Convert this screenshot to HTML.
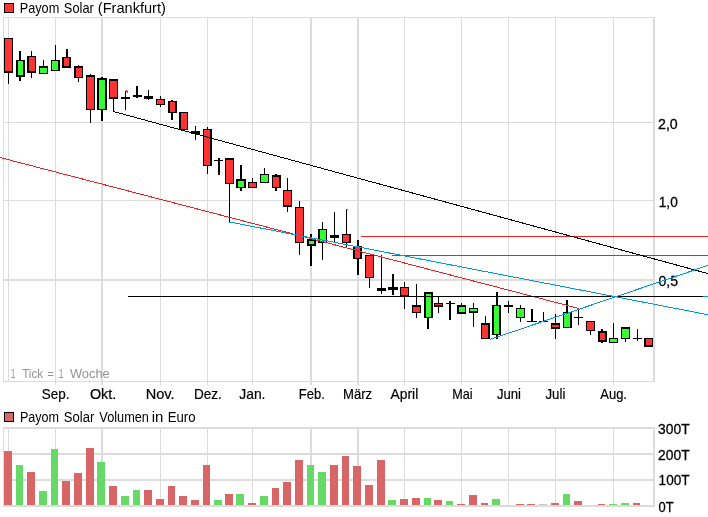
<!DOCTYPE html>
<html lang="de"><head><meta charset="utf-8"><title>Payom Solar (Frankfurt)</title>
<style>html,body{margin:0;padding:0;background:#fff}svg{display:block}text{font-family:"Liberation Sans",sans-serif;fill:#000}text.g{fill:#939393}text.b{stroke:#000;stroke-width:.2px}text.b2{stroke:#000;stroke-width:.3px}</style></head><body>
<svg width="708" height="517" viewBox="0 0 708 517">
<rect width="708" height="517" fill="#fff"/>
<g shape-rendering="crispEdges">
<g fill="#dcdcdc">
<rect x="3" y="17" width="652" height="1"/>
<rect x="3" y="381" width="652" height="1"/>
<rect x="3" y="17" width="1" height="365"/>
<rect x="653" y="17" width="2" height="365"/>
<rect x="8" y="17" width="1" height="365"/>
<rect x="55" y="17" width="1" height="368"/>
<rect x="101" y="17" width="2" height="368"/>
<rect x="160" y="17" width="1" height="368"/>
<rect x="207" y="17" width="1" height="368"/>
<rect x="252" y="17" width="1" height="368"/>
<rect x="310" y="17" width="2" height="368"/>
<rect x="357" y="17" width="2" height="368"/>
<rect x="404" y="17" width="1" height="368"/>
<rect x="461" y="17" width="1" height="368"/>
<rect x="508" y="17" width="1" height="368"/>
<rect x="555" y="17" width="1" height="368"/>
<rect x="613" y="17" width="1" height="368"/>
<rect x="3" y="122" width="651" height="1"/>
<rect x="3" y="200" width="651" height="1"/>
<rect x="3" y="279" width="651" height="2"/>
<rect x="3" y="427" width="652" height="2"/>
<rect x="3" y="505" width="652" height="2"/>
<rect x="3" y="427" width="1" height="79"/>
<rect x="653" y="427" width="2" height="79"/>
<rect x="8" y="427" width="1" height="79"/>
<rect x="55" y="427" width="1" height="79"/>
<rect x="101" y="427" width="2" height="79"/>
<rect x="160" y="427" width="1" height="79"/>
<rect x="207" y="427" width="1" height="79"/>
<rect x="252" y="427" width="1" height="79"/>
<rect x="310" y="427" width="2" height="79"/>
<rect x="357" y="427" width="2" height="79"/>
<rect x="404" y="427" width="1" height="79"/>
<rect x="461" y="427" width="1" height="79"/>
<rect x="508" y="427" width="1" height="79"/>
<rect x="555" y="427" width="1" height="79"/>
<rect x="613" y="427" width="1" height="79"/>
<rect x="3" y="453" width="651" height="2"/>
<rect x="3" y="479" width="651" height="2"/>
</g>
<rect x="4" y="451" width="8" height="54" fill="#d96666"/>
<rect x="16" y="465" width="7" height="40" fill="#66d966"/>
<rect x="27" y="472" width="8" height="33" fill="#d96666"/>
<rect x="39" y="491" width="8" height="14" fill="#66d966"/>
<rect x="51" y="449" width="7" height="56" fill="#66d966"/>
<rect x="62" y="481" width="8" height="24" fill="#d96666"/>
<rect x="74" y="473" width="8" height="32" fill="#d96666"/>
<rect x="86" y="448" width="8" height="57" fill="#d96666"/>
<rect x="97" y="462" width="8" height="43" fill="#66d966"/>
<rect x="109" y="486" width="8" height="19" fill="#d96666"/>
<rect x="121" y="496" width="8" height="9" fill="#66d966"/>
<rect x="133" y="490" width="7" height="15" fill="#66d966"/>
<rect x="144" y="490" width="8" height="15" fill="#d96666"/>
<rect x="156" y="499" width="8" height="6" fill="#d96666"/>
<rect x="168" y="486" width="7" height="19" fill="#d96666"/>
<rect x="179" y="496" width="8" height="9" fill="#d96666"/>
<rect x="191" y="500" width="8" height="5" fill="#d96666"/>
<rect x="203" y="465" width="7" height="40" fill="#d96666"/>
<rect x="214" y="500" width="8" height="5" fill="#66d966"/>
<rect x="225" y="494" width="8" height="11" fill="#d96666"/>
<rect x="236" y="494" width="8" height="11" fill="#66d966"/>
<rect x="248" y="503" width="8" height="2" fill="#d96666"/>
<rect x="260" y="496" width="8" height="9" fill="#66d966"/>
<rect x="272" y="488" width="7" height="17" fill="#d96666"/>
<rect x="283" y="482" width="8" height="23" fill="#d96666"/>
<rect x="295" y="460" width="8" height="45" fill="#d96666"/>
<rect x="307" y="465" width="7" height="40" fill="#66d966"/>
<rect x="318" y="472" width="8" height="33" fill="#66d966"/>
<rect x="330" y="465" width="8" height="40" fill="#d96666"/>
<rect x="342" y="456" width="7" height="49" fill="#d96666"/>
<rect x="353" y="466" width="8" height="39" fill="#d96666"/>
<rect x="365" y="485" width="8" height="20" fill="#d96666"/>
<rect x="377" y="460" width="8" height="45" fill="#d96666"/>
<rect x="388" y="500" width="8" height="5" fill="#66d966"/>
<rect x="400" y="499" width="8" height="6" fill="#d96666"/>
<rect x="412" y="498" width="8" height="7" fill="#d96666"/>
<rect x="424" y="498" width="7" height="7" fill="#66d966"/>
<rect x="434" y="500" width="8" height="5" fill="#d96666"/>
<rect x="446" y="501" width="7" height="4" fill="#66d966"/>
<rect x="457" y="504" width="8" height="1" fill="#d96666"/>
<rect x="469" y="495" width="8" height="10" fill="#d96666"/>
<rect x="481" y="503" width="7" height="2" fill="#d96666"/>
<rect x="492" y="499" width="8" height="6" fill="#66d966"/>
<rect x="516" y="504" width="8" height="1" fill="#d96666"/>
<rect x="527" y="504" width="8" height="1" fill="#d96666"/>
<rect x="539" y="504" width="8" height="1" fill="#c8c8c8"/>
<rect x="551" y="503" width="8" height="2" fill="#d96666"/>
<rect x="563" y="494" width="7" height="11" fill="#66d966"/>
<rect x="574" y="501" width="8" height="4" fill="#d96666"/>
<rect x="598" y="504" width="7" height="1" fill="#d96666"/>
<rect x="609" y="504" width="8" height="1" fill="#66d966"/>
<rect x="621" y="503" width="8" height="2" fill="#66d966"/>
<rect x="633" y="503" width="7" height="2" fill="#d96666"/>
<rect x="8" y="38" width="1" height="46" fill="#000"/>
<rect x="4" y="38" width="9" height="35" fill="#000"/>
<rect x="5" y="39" width="7" height="32" fill="#ff3333"/>
<rect x="19" y="51" width="2" height="30" fill="#000"/>
<rect x="16" y="60" width="9" height="17" fill="#000"/>
<rect x="18" y="61" width="5" height="14" fill="#33ff33"/>
<rect x="31" y="51" width="1" height="27" fill="#000"/>
<rect x="27" y="56" width="9" height="17" fill="#000"/>
<rect x="29" y="57" width="6" height="14" fill="#ff3333"/>
<rect x="43" y="60" width="1" height="14" fill="#000"/>
<rect x="39" y="66" width="9" height="8" fill="#000"/>
<rect x="40" y="68" width="7" height="5" fill="#33ff33"/>
<rect x="55" y="45" width="1" height="26" fill="#000"/>
<rect x="51" y="60" width="9" height="11" fill="#000"/>
<rect x="52" y="61" width="6" height="9" fill="#33ff33"/>
<rect x="66" y="49" width="2" height="19" fill="#000"/>
<rect x="62" y="57" width="9" height="11" fill="#000"/>
<rect x="64" y="58" width="5" height="8" fill="#ff3333"/>
<rect x="78" y="65" width="1" height="17" fill="#000"/>
<rect x="74" y="66" width="9" height="12" fill="#000"/>
<rect x="76" y="68" width="6" height="9" fill="#ff3333"/>
<rect x="90" y="74" width="1" height="49" fill="#000"/>
<rect x="86" y="75" width="9" height="35" fill="#000"/>
<rect x="87" y="77" width="7" height="32" fill="#ff3333"/>
<rect x="101" y="77" width="2" height="44" fill="#000"/>
<rect x="97" y="78" width="10" height="32" fill="#000"/>
<rect x="99" y="80" width="6" height="29" fill="#33ff33"/>
<rect x="113" y="79" width="1" height="33" fill="#000"/>
<rect x="109" y="79" width="9" height="20" fill="#000"/>
<rect x="110" y="81" width="7" height="16" fill="#ff3333"/>
<rect x="160" y="96" width="1" height="11" fill="#000"/>
<rect x="156" y="99" width="9" height="6" fill="#000"/>
<rect x="157" y="100" width="7" height="4" fill="#ff3333"/>
<rect x="171" y="100" width="2" height="20" fill="#000"/>
<rect x="168" y="101" width="9" height="12" fill="#000"/>
<rect x="170" y="102" width="5" height="10" fill="#ff3333"/>
<rect x="183" y="112" width="1" height="18" fill="#000"/>
<rect x="179" y="112" width="9" height="18" fill="#000"/>
<rect x="181" y="113" width="6" height="16" fill="#ff3333"/>
<rect x="207" y="127" width="1" height="47" fill="#000"/>
<rect x="203" y="129" width="9" height="37" fill="#000"/>
<rect x="204" y="130" width="6" height="35" fill="#ff3333"/>
<rect x="229" y="158" width="1" height="64" fill="#000"/>
<rect x="225" y="158" width="9" height="26" fill="#000"/>
<rect x="226" y="160" width="7" height="23" fill="#ff3333"/>
<rect x="240" y="165" width="2" height="26" fill="#000"/>
<rect x="236" y="179" width="10" height="9" fill="#000"/>
<rect x="238" y="181" width="6" height="6" fill="#33ff33"/>
<rect x="252" y="178" width="1" height="10" fill="#000"/>
<rect x="248" y="182" width="9" height="6" fill="#000"/>
<rect x="249" y="183" width="7" height="4" fill="#ff3333"/>
<rect x="264" y="168" width="1" height="15" fill="#000"/>
<rect x="260" y="174" width="9" height="9" fill="#000"/>
<rect x="261" y="175" width="7" height="7" fill="#33ff33"/>
<rect x="275" y="174" width="2" height="17" fill="#000"/>
<rect x="272" y="175" width="9" height="13" fill="#000"/>
<rect x="273" y="177" width="6" height="10" fill="#ff3333"/>
<rect x="287" y="178" width="1" height="34" fill="#000"/>
<rect x="283" y="190" width="9" height="17" fill="#000"/>
<rect x="284" y="191" width="7" height="14" fill="#ff3333"/>
<rect x="299" y="201" width="1" height="54" fill="#000"/>
<rect x="295" y="207" width="9" height="36" fill="#000"/>
<rect x="296" y="208" width="7" height="34" fill="#ff3333"/>
<rect x="310" y="234" width="2" height="32" fill="#000"/>
<rect x="307" y="239" width="9" height="7" fill="#000"/>
<rect x="309" y="241" width="5" height="3" fill="#33ff33"/>
<rect x="322" y="222" width="1" height="38" fill="#000"/>
<rect x="318" y="229" width="9" height="14" fill="#000"/>
<rect x="320" y="230" width="6" height="12" fill="#33ff33"/>
<rect x="346" y="209" width="1" height="38" fill="#000"/>
<rect x="342" y="234" width="9" height="9" fill="#000"/>
<rect x="343" y="235" width="6" height="7" fill="#ff3333"/>
<rect x="357" y="240" width="2" height="35" fill="#000"/>
<rect x="353" y="246" width="9" height="13" fill="#000"/>
<rect x="355" y="247" width="5" height="11" fill="#ff3333"/>
<rect x="369" y="255" width="1" height="33" fill="#000"/>
<rect x="365" y="255" width="9" height="23" fill="#000"/>
<rect x="366" y="256" width="7" height="21" fill="#ff3333"/>
<rect x="404" y="282" width="1" height="27" fill="#000"/>
<rect x="400" y="287" width="9" height="9" fill="#000"/>
<rect x="401" y="288" width="7" height="7" fill="#ff3333"/>
<rect x="416" y="284" width="1" height="34" fill="#000"/>
<rect x="412" y="305" width="9" height="8" fill="#000"/>
<rect x="413" y="307" width="7" height="5" fill="#ff3333"/>
<rect x="427" y="292" width="2" height="37" fill="#000"/>
<rect x="424" y="292" width="9" height="26" fill="#000"/>
<rect x="426" y="294" width="5" height="23" fill="#33ff33"/>
<rect x="438" y="297" width="1" height="16" fill="#000"/>
<rect x="434" y="303" width="9" height="4" fill="#000"/>
<rect x="435" y="304" width="7" height="1" fill="#ff3333"/>
<rect x="461" y="303" width="1" height="11" fill="#000"/>
<rect x="457" y="305" width="9" height="9" fill="#000"/>
<rect x="459" y="307" width="6" height="5" fill="#33ff33"/>
<rect x="473" y="303" width="1" height="24" fill="#000"/>
<rect x="469" y="308" width="9" height="5" fill="#000"/>
<rect x="470" y="309" width="7" height="2" fill="#33ff33"/>
<rect x="485" y="316" width="1" height="23" fill="#000"/>
<rect x="481" y="323" width="9" height="16" fill="#000"/>
<rect x="482" y="325" width="6" height="13" fill="#ff3333"/>
<rect x="496" y="292" width="2" height="47" fill="#000"/>
<rect x="492" y="305" width="9" height="30" fill="#000"/>
<rect x="494" y="306" width="5" height="28" fill="#33ff33"/>
<rect x="520" y="305" width="1" height="17" fill="#000"/>
<rect x="516" y="308" width="9" height="10" fill="#000"/>
<rect x="517" y="309" width="7" height="8" fill="#33ff33"/>
<rect x="555" y="314" width="1" height="25" fill="#000"/>
<rect x="551" y="323" width="9" height="6" fill="#000"/>
<rect x="552" y="325" width="7" height="2" fill="#ff3333"/>
<rect x="566" y="300" width="2" height="28" fill="#000"/>
<rect x="563" y="312" width="9" height="16" fill="#000"/>
<rect x="564" y="313" width="6" height="14" fill="#33ff33"/>
<rect x="590" y="321" width="1" height="14" fill="#000"/>
<rect x="586" y="321" width="9" height="10" fill="#000"/>
<rect x="587" y="322" width="7" height="8" fill="#ff3333"/>
<rect x="601" y="329" width="2" height="14" fill="#000"/>
<rect x="598" y="331" width="9" height="11" fill="#000"/>
<rect x="600" y="333" width="5" height="7" fill="#ff3333"/>
<rect x="613" y="323" width="1" height="20" fill="#000"/>
<rect x="609" y="338" width="9" height="5" fill="#000"/>
<rect x="610" y="339" width="7" height="3" fill="#33ff33"/>
<rect x="625" y="327" width="1" height="15" fill="#000"/>
<rect x="621" y="327" width="9" height="12" fill="#000"/>
<rect x="622" y="329" width="7" height="9" fill="#33ff33"/>
<rect x="648" y="338" width="1" height="9" fill="#000"/>
<rect x="644" y="338" width="9" height="9" fill="#000"/>
<rect x="646" y="339" width="6" height="6" fill="#ff3333"/>
<rect x="125" y="91" width="1" height="19" fill="#000"/>
<rect x="121" y="97" width="9" height="2" fill="#000"/>
<rect x="136" y="86" width="2" height="12" fill="#000"/>
<rect x="133" y="95" width="9" height="2" fill="#000"/>
<rect x="148" y="90" width="1" height="10" fill="#000"/>
<rect x="144" y="96" width="9" height="3" fill="#000"/>
<rect x="195" y="126" width="1" height="14" fill="#000"/>
<rect x="191" y="131" width="9" height="3" fill="#000"/>
<rect x="218" y="158" width="2" height="17" fill="#000"/>
<rect x="214" y="160" width="9" height="1" fill="#000"/>
<rect x="334" y="212" width="1" height="30" fill="#000"/>
<rect x="330" y="235" width="9" height="3" fill="#000"/>
<rect x="381" y="255" width="1" height="39" fill="#000"/>
<rect x="377" y="288" width="9" height="3" fill="#000"/>
<rect x="392" y="274" width="2" height="21" fill="#000"/>
<rect x="388" y="287" width="10" height="3" fill="#000"/>
<rect x="449" y="301" width="2" height="19" fill="#000"/>
<rect x="446" y="303" width="9" height="1" fill="#000"/>
<rect x="508" y="301" width="1" height="12" fill="#000"/>
<rect x="504" y="305" width="9" height="2" fill="#000"/>
<rect x="531" y="309" width="2" height="13" fill="#000"/>
<rect x="527" y="321" width="10" height="1" fill="#000"/>
<rect x="543" y="312" width="1" height="10" fill="#000"/>
<rect x="539" y="321" width="9" height="1" fill="#000"/>
<rect x="578" y="308" width="1" height="17" fill="#000"/>
<rect x="574" y="317" width="9" height="1" fill="#000"/>
<rect x="637" y="329" width="1" height="12" fill="#000"/>
<rect x="633" y="338" width="9" height="1" fill="#000"/>
<rect x="4" y="3" width="10" height="10" fill="#000"/><rect x="5" y="4" width="8" height="8" fill="#ff3333"/>
<rect x="4" y="412" width="10" height="10" fill="#000"/><rect x="5" y="413" width="8" height="8" fill="#d96666"/>
</g>
<text y="12.7" font-size="14.3"><tspan x="19.71" textLength="39.54" lengthAdjust="spacingAndGlyphs">Payom</tspan> <tspan x="63.85" textLength="29.98" lengthAdjust="spacingAndGlyphs">Solar</tspan> <tspan x="97.77" textLength="68.15" lengthAdjust="spacingAndGlyphs">(Frankfurt)</tspan></text>
<text y="421.6" font-size="14"><tspan x="19.94" textLength="39.15" lengthAdjust="spacingAndGlyphs">Payom</tspan> <tspan x="63.85" textLength="30.49" lengthAdjust="spacingAndGlyphs">Solar</tspan> <tspan x="99.37" textLength="49.58" lengthAdjust="spacingAndGlyphs">Volumen</tspan> <tspan x="151.7" textLength="11.69" lengthAdjust="spacingAndGlyphs">in</tspan> <tspan x="167.72" textLength="27.8" lengthAdjust="spacingAndGlyphs">Euro</tspan></text>
<text y="377.6" font-size="13.4" class="g"><tspan x="10.67" textLength="4.66" lengthAdjust="spacingAndGlyphs">1</tspan> <tspan x="22.13" textLength="21.05" lengthAdjust="spacingAndGlyphs">Tick</tspan> <tspan x="47.47" textLength="6.36" lengthAdjust="spacingAndGlyphs">=</tspan> <tspan x="58.87" textLength="4.67" lengthAdjust="spacingAndGlyphs">1</tspan> <tspan x="69.9" textLength="39.84" lengthAdjust="spacingAndGlyphs">Woche</tspan></text>
<text y="398.6" font-size="14.6" class="b"><tspan x="41.78" textLength="27.69" lengthAdjust="spacingAndGlyphs">Sep.</tspan> <tspan x="89.91" textLength="26.32" lengthAdjust="spacingAndGlyphs">Okt.</tspan> <tspan x="145.75" textLength="28.84" lengthAdjust="spacingAndGlyphs">Nov.</tspan> <tspan x="194.01" textLength="27.9" lengthAdjust="spacingAndGlyphs">Dez.</tspan> <tspan x="239.28" textLength="26.16" lengthAdjust="spacingAndGlyphs">Jan.</tspan> <tspan x="298.77" textLength="25.98" lengthAdjust="spacingAndGlyphs">Feb.</tspan> <tspan x="343.04" textLength="29.14" lengthAdjust="spacingAndGlyphs">März</tspan> <tspan x="390.53" textLength="27.74" lengthAdjust="spacingAndGlyphs">April</tspan> <tspan x="452.19" textLength="20.33" lengthAdjust="spacingAndGlyphs">Mai</tspan> <tspan x="496.9" textLength="24.1" lengthAdjust="spacingAndGlyphs">Juni</tspan> <tspan x="545.51" textLength="19.84" lengthAdjust="spacingAndGlyphs">Juli</tspan> <tspan x="600.25" textLength="26.73" lengthAdjust="spacingAndGlyphs">Aug.</tspan></text>
<text x="658.02" y="128.6" font-size="14.8" textLength="19.76" lengthAdjust="spacingAndGlyphs" class="b2">2,0</text>
<text x="658.75" y="206.6" font-size="14.8" textLength="19.02" lengthAdjust="spacingAndGlyphs" class="b2">1,0</text>
<text x="658.41" y="285.5" font-size="14.8" textLength="19.62" lengthAdjust="spacingAndGlyphs" class="b2">0,5</text>
<text x="658.11" y="433.6" font-size="14.6" textLength="31.49" lengthAdjust="spacingAndGlyphs" class="b2">300T</text>
<text x="658.1" y="459.5" font-size="14.6" textLength="31.5" lengthAdjust="spacingAndGlyphs" class="b2">200T</text>
<text x="658.62" y="485.3" font-size="14.6" textLength="30.89" lengthAdjust="spacingAndGlyphs" class="b2">100T</text>
<text x="658.48" y="511.6" font-size="14.6" textLength="15.03" lengthAdjust="spacingAndGlyphs" class="b2">0T</text>
<g fill="none" stroke-width="1" shape-rendering="crispEdges">
<line x1="0" y1="157.5" x2="579" y2="308.5" stroke="#ee2222"/>
<line x1="361" y1="236.5" x2="708" y2="236.5" stroke="#ee2222"/>
<line x1="392" y1="255.5" x2="708" y2="255.5" stroke="#ee2222"/>
<line x1="128" y1="296.5" x2="703" y2="296.5" stroke="#000"/><line x1="703" y1="296.5" x2="708" y2="296.5" stroke="#0099e6"/>
<line x1="126" y1="90.5" x2="128" y2="92.5" stroke="#ee2222"/><line x1="346" y1="209.5" x2="348" y2="209.5" stroke="#0099e6"/>
<line x1="112.8" y1="111.3" x2="708" y2="273.6" stroke="#000"/>
<line x1="229.5" y1="222" x2="708" y2="314.7" stroke="#0099e6"/>
<line x1="489.6" y1="339.6" x2="708" y2="265.4" stroke="#0099e6"/>
</g>
</svg></body></html>
